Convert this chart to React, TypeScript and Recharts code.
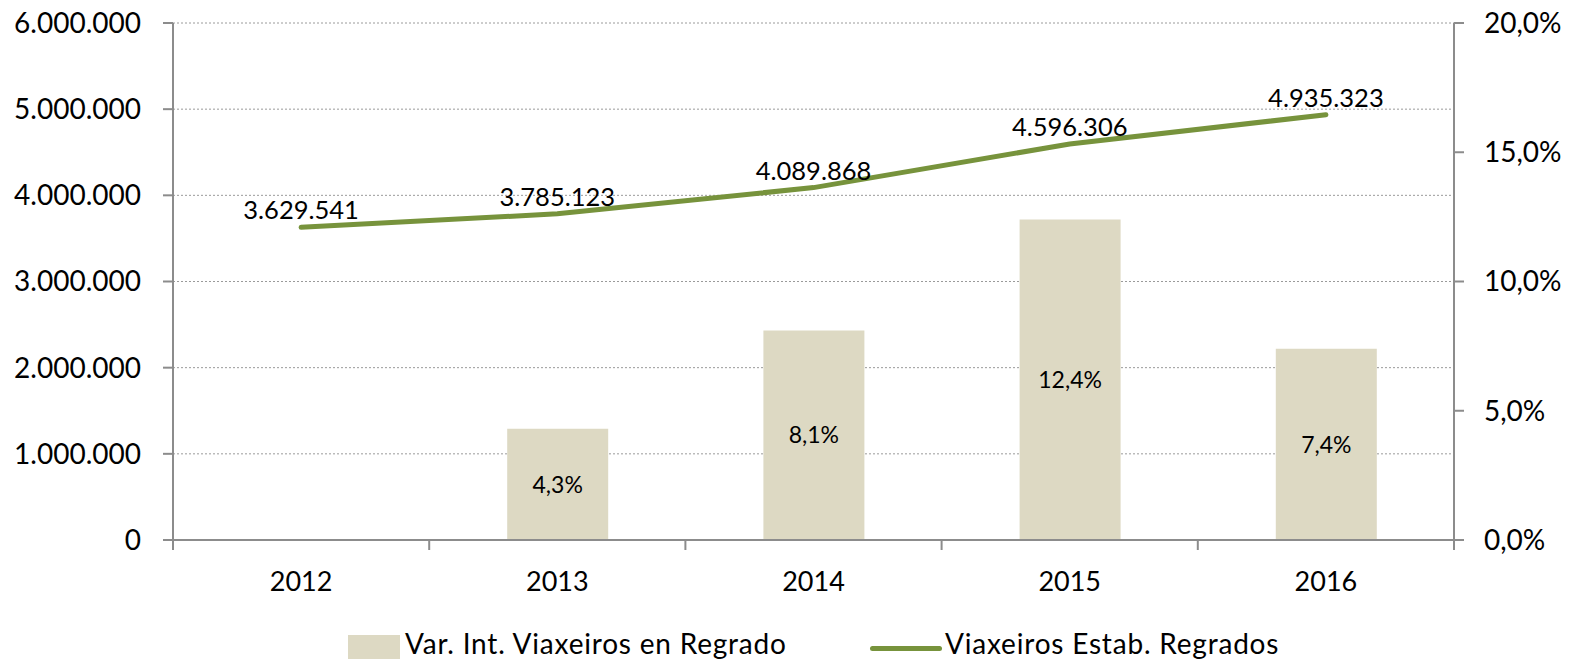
import React from "react";
import {
  ComposedChart,
  Bar,
  Line,
  XAxis,
  YAxis,
  CartesianGrid,
  LabelList,
  Legend,
} from "recharts";

const YEARS = ["2012", "2013", "2014", "2015", "2016"];
// Viaxeiros Estab. Regrados (left axis)
const VIAXEIROS = [3629541, 3785123, 4089868, 4596306, 4935323];
// Var. Int. Viaxeiros en Regrado, % (right axis)
const VARIACION: (number | null)[] = [null, 4.3, 8.1, 12.4, 7.4];
const LEFT_TICKS = [0, 1000000, 2000000, 3000000, 4000000, 5000000, 6000000];
const RIGHT_TICKS = [0, 5, 10, 15, 20];

const BAR_COLOR = "#DDD9C3";
const LINE_COLOR = "#77933C";
const AXIS_COLOR = "#8C8C8C";
const FONT = "Lato, 'Open Sans', sans-serif";

const data = YEARS.map((year, i) => ({
  year,
  viaxeiros: VIAXEIROS[i],
  variacion: VARIACION[i],
}));

const fmtThousands = (v: number) =>
  Math.round(v)
    .toString()
    .replace(/\B(?=(\d{3})+(?!\d))/g, ".");
const fmtPct = (v: number) => `${v.toFixed(1).replace(".", ",")}%`;

// category labels plus Excel-style tick marks on the category boundaries
const YearTick = (props: any) => {
  const { x, y, payload, index } = props;
  const half = payload.offset ?? 0;
  const last = index === YEARS.length - 1;
  return (
    <g>
      <line x1={x - half} x2={x - half} y1={y} y2={y + 10} stroke={AXIS_COLOR} strokeWidth={2} />
      {last && <line x1={x + half} x2={x + half} y1={y} y2={y + 10} stroke={AXIS_COLOR} strokeWidth={2} />}
      <text x={x} y={y + 51} textAnchor="middle" fontSize={27} fontFamily={FONT} fill="#000">
        {payload.value}
      </text>
    </g>
  );
};

const legendText: React.CSSProperties = {
  position: "absolute",
  top: 26,
  lineHeight: "34px",
  color: "#000",
  whiteSpace: "nowrap",
  letterSpacing: 0.8,
};

const ChartLegend = () => (
  <div style={{ position: "relative", width: 1576, height: 59, overflow: "hidden", fontFamily: FONT, fontSize: 28 }}>
    <div style={{ position: "absolute", left: 348, top: 35, width: 52, height: 26, background: BAR_COLOR }} />
    <div style={{ ...legendText, left: 405 }}>Var. Int. Viaxeiros en Regrado</div>
    <div style={{ position: "absolute", left: 870, top: 45.5, width: 72, height: 5, background: LINE_COLOR, borderRadius: 3 }} />
    <div style={{ ...legendText, left: 945 }}>Viaxeiros Estab. Regrados</div>
  </div>
);

export default function App() {
  return (
    <div style={{ width: 1576, height: 659, background: "#fff" }}>
      <style>{`body{margin:0}`}</style>
      <ComposedChart
        width={1576}
        height={659}
        data={data}
        margin={{ top: 23, right: 0, bottom: 0, left: 0 }}
        style={{ fontFamily: FONT }}
      >
        <CartesianGrid
          yAxisId="left"
          vertical={false}
          stroke="#9A9A9A"
          strokeDasharray="2 2"
        />
        <XAxis
          dataKey="year"
          height={60}
          axisLine={{ stroke: AXIS_COLOR, strokeWidth: 2 }}
          tickLine={false}
          tickSize={0}
          tickMargin={0}
          tick={<YearTick />}
          interval={0}
        />
        <YAxis
          yAxisId="left"
          orientation="left"
          width={173}
          domain={[0, 6000000]}
          ticks={LEFT_TICKS}
          tickFormatter={fmtThousands}
          axisLine={{ stroke: AXIS_COLOR, strokeWidth: 2 }}
          tickLine={{ stroke: AXIS_COLOR, strokeWidth: 2 }}
          tickSize={10}
          tickMargin={22}
          tick={{ fill: "#000", fontSize: 28, fontFamily: FONT }}
        />
        <YAxis
          yAxisId="right"
          orientation="right"
          width={122}
          domain={[0, 20]}
          ticks={RIGHT_TICKS}
          tickFormatter={fmtPct}
          axisLine={{ stroke: AXIS_COLOR, strokeWidth: 2 }}
          tickLine={{ stroke: AXIS_COLOR, strokeWidth: 2 }}
          tickSize={10}
          tickMargin={20}
          tick={{ fill: "#000", fontSize: 28, fontFamily: FONT }}
        />
        <Bar
          yAxisId="right"
          dataKey="variacion"
          fill={BAR_COLOR}
          barSize={101}
          isAnimationActive={false}
        >
          <LabelList
            dataKey="variacion"
            position="center"
            formatter={(v: any) => (v == null ? "" : fmtPct(Number(v)))}
            fill="#000"
            fontSize={23}
            fontFamily={FONT}
          />
        </Bar>
        <Line
          yAxisId="left"
          type="linear"
          dataKey="viaxeiros"
          stroke={LINE_COLOR}
          strokeWidth={5}
          strokeLinecap="round"
          dot={false}
          activeDot={false}
          isAnimationActive={false}
        >
          <LabelList
            dataKey="viaxeiros"
            position="top"
            offset={8}
            formatter={(v: any) => fmtThousands(Number(v))}
            fill="#000"
            fontSize={25.5}
            fontFamily={FONT}
          />
        </Line>
        <Legend verticalAlign="bottom" content={() => <ChartLegend />} wrapperStyle={{ left: 0, width: 1576, height: 59 }} />
      </ComposedChart>
    </div>
  );
}
